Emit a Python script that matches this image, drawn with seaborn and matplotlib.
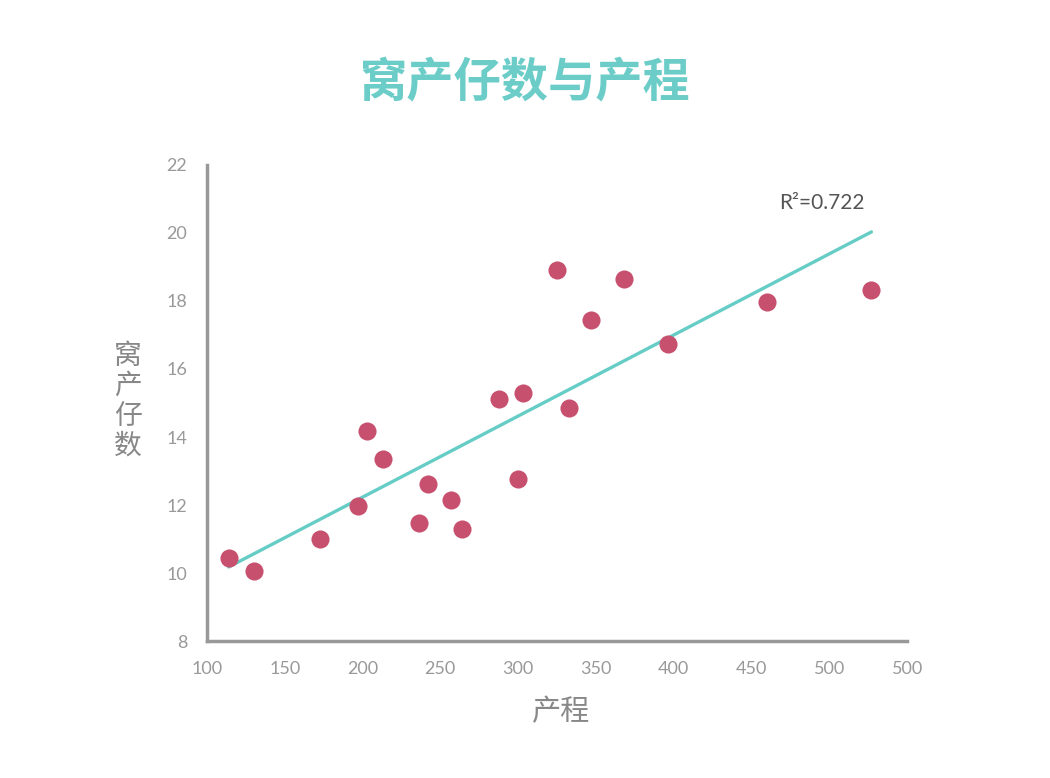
import matplotlib
matplotlib.use("Agg")
import matplotlib.pyplot as plt
import seaborn as sns
import pandas as pd

# data
labor_hours = [114, 130, 173, 197, 203, 213, 236, 242, 257, 264,
               288, 300, 303, 325, 333, 347, 368, 396, 460, 527]
litter_size = [10.44, 10.06, 11.0, 11.97, 14.18, 13.35, 11.47, 12.62, 12.15, 11.29,
               15.12, 12.76, 15.29, 18.91, 14.85, 17.44, 18.65, 16.74, 17.97, 18.32]
x_ticks = [100, 150, 200, 250, 300, 350, 400, 450, 500, 550]
x_tick_labels = ["100", "150", "200", "250", "300", "350", "400", "450", "500", "500"]
y_ticks = [8, 10, 12, 14, 16, 18, 20, 22]
r2_text = "R²=0.722"

df = pd.DataFrame({"产程": labor_hours, "窝产仔数": litter_size})

sns.set_style("white")
plt.rcParams["font.family"] = ["Noto Sans CJK SC", "DejaVu Sans"]

fig = plt.figure(figsize=(10.5, 7.78), dpi=100)
ax = fig.add_axes([0.197, 0.176, 0.667, 0.612])

sns.regplot(data=df, x="产程", y="窝产仔数", ci=None, ax=ax,
            scatter_kws=dict(s=170, color="#c8506f", alpha=1, linewidths=0, zorder=3),
            line_kws=dict(color="#66cdc6", lw=2.4, zorder=2))

ax.set_xlim(100, 550)
ax.set_ylim(8, 22)
ax.set_xticks(x_ticks)
ax.set_xticklabels(x_tick_labels)
ax.set_yticks(y_ticks)
ax.tick_params(length=0, labelsize=13, labelcolor="#999999", pad=14)
for lab in ax.get_xticklabels() + ax.get_yticklabels():
    lab.set_family(["Lato", "DejaVu Sans"])

for side in ["top", "right"]:
    ax.spines[side].set_visible(False)
for side in ["left", "bottom"]:
    ax.spines[side].set_color("#999999")
    ax.spines[side].set_linewidth(2.5)

ax.set_xlabel("")
ax.set_ylabel("")

fig.text(0.5, 0.893, "窝产仔数与产程", ha="center", va="center",
         fontsize=34, fontweight="bold", color="#6ccdc8")
fig.text(0.534, 0.085, "产程", ha="center", va="center", fontsize=21, color="#888888")
fig.text(0.122, 0.485, "窝\n产\n仔\n数", ha="center", va="center", fontsize=20,
         color="#888888", linespacing=1.0)
ax.text(495, 20.6, r2_text, ha="center", va="bottom", fontsize=15, color="#555555",
        family=["Lato", "DejaVu Sans"])

fig.savefig("out.png", dpi=100)
